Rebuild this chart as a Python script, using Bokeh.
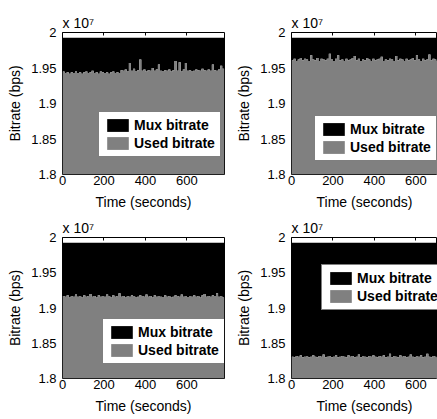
from bokeh.plotting import figure
from bokeh.layouts import column, row
from bokeh.models import (Range1d, FixedTicker, CustomJSTickFormatter, Legend,
                          LegendItem, LinearAxis)
from bokeh.embed import file_html
from bokeh.resources import INLINE

# ---------------- data (bitrates in units of 1e7 bps, axis shows "x 10^7") ---
STEP_S = 10          # sampling interval of the series, seconds
X_TICKS = [0, 200, 400, 600]
Y_TICKS = [1.8, 1.85, 1.9, 1.95, 2.0]
Y_MIN, Y_MAX = 1.8, 2.0
X_END_FULL = 781     # last second shown in the left panels
X_END_CROP = 704     # right-hand panels are cut off at the page edge

mux_a = 1.9925
used_a = [1.945, 1.943, 1.944, 1.942, 1.944, 1.943, 1.945, 1.943, 1.944, 1.942,
          1.944, 1.945, 1.943, 1.944, 1.946, 1.943, 1.944, 1.942, 1.945, 1.944,
          1.943, 1.944, 1.942, 1.944, 1.945, 1.943, 1.944, 1.943, 1.947, 1.946,
          1.948, 1.945, 1.957, 1.946, 1.949, 1.945, 1.947, 1.962, 1.946, 1.948,
          1.945, 1.947, 1.946, 1.950, 1.946, 1.948, 1.955, 1.946, 1.945, 1.947,
          1.946, 1.948, 1.945, 1.947, 1.960, 1.946, 1.958, 1.945, 1.948, 1.957,
          1.946, 1.947, 1.945, 1.946, 1.948, 1.947, 1.946, 1.949, 1.947, 1.946,
          1.948, 1.946, 1.955, 1.947, 1.946, 1.948, 1.953, 1.949, 1.950]

mux_b = 1.9925
used_b = [1.961, 1.963, 1.960, 1.962, 1.964, 1.961, 1.963, 1.962, 1.960, 1.968,
          1.962, 1.961, 1.964, 1.960, 1.963, 1.962, 1.961, 1.963, 1.970, 1.962,
          1.960, 1.963, 1.968, 1.961, 1.962, 1.960, 1.963, 1.961, 1.962, 1.964,
          1.967, 1.961, 1.963, 1.960, 1.962, 1.961, 1.964, 1.962, 1.960, 1.963,
          1.961, 1.962, 1.963, 1.966, 1.960, 1.962, 1.961, 1.963, 1.962, 1.960,
          1.967, 1.961, 1.963, 1.962, 1.960, 1.963, 1.961, 1.962, 1.964, 1.961,
          1.968, 1.962, 1.960, 1.963, 1.961, 1.962, 1.969, 1.961, 1.963, 1.962,
          1.960, 1.963, 1.961, 1.964, 1.962, 1.960, 1.963, 1.961, 1.962]

mux_c = 1.9925
used_c = [1.917, 1.916, 1.918, 1.915, 1.917, 1.916, 1.919, 1.916, 1.917, 1.915,
          1.918, 1.916, 1.917, 1.920, 1.916, 1.917, 1.915, 1.918, 1.916, 1.917,
          1.916, 1.919, 1.917, 1.915, 1.918, 1.916, 1.917, 1.921, 1.916, 1.917,
          1.915, 1.917, 1.916, 1.918, 1.917, 1.915, 1.916, 1.918, 1.917, 1.916,
          1.919, 1.916, 1.917, 1.915, 1.918, 1.916, 1.917, 1.916, 1.915, 1.918,
          1.916, 1.917, 1.915, 1.916, 1.918, 1.917, 1.916, 1.919, 1.916, 1.917,
          1.915, 1.917, 1.916, 1.918, 1.916, 1.917, 1.915, 1.918, 1.920, 1.916,
          1.917, 1.916, 1.918, 1.917, 1.921, 1.916, 1.917, 1.915, 1.918]

mux_d = 1.9925
used_d = [1.831, 1.830, 1.832, 1.831, 1.833, 1.830, 1.831, 1.832, 1.830, 1.831,
          1.833, 1.831, 1.830, 1.832, 1.831, 1.834, 1.830, 1.831, 1.832, 1.830,
          1.831, 1.833, 1.830, 1.831, 1.832, 1.831, 1.830, 1.833, 1.831, 1.832,
          1.830, 1.831, 1.834, 1.830, 1.832, 1.831, 1.830, 1.832, 1.831, 1.833,
          1.831, 1.830, 1.832, 1.831, 1.833, 1.830, 1.831, 1.835, 1.830, 1.832,
          1.831, 1.830, 1.833, 1.831, 1.832, 1.830, 1.831, 1.834, 1.831, 1.830,
          1.832, 1.831, 1.833, 1.830, 1.831, 1.835, 1.831, 1.830, 1.832, 1.831,
          1.830, 1.832, 1.831, 1.833, 1.830, 1.831, 1.832, 1.830, 1.831]

LABEL_MUX = "Mux bitrate"
LABEL_USED = "Used bitrate"
X_LABEL = "Time (seconds)"
Y_LABEL = "Bitrate (bps)"
SCALE_NOTE = "x 10\u2077"

FONT = "Liberation Sans"
GREY = "#808080"


def panel(used, mux, x_end, width, height, b_left, b_top, b_right, b_bottom,
          legend_loc):
    t = [i * STEP_S for i in range(len(used))]
    p = figure(width=width, height=height,
               x_range=Range1d(0, x_end), y_range=Range1d(Y_MIN, Y_MAX),
               output_backend="svg", toolbar_location=None,
               min_border_left=b_left, min_border_top=b_top,
               min_border_right=b_right, min_border_bottom=b_bottom,
               background_fill_color="white", border_fill_color="white",
               outline_line_color="black", outline_line_width=1)
    p.grid.visible = False

    r_mux = p.varea_step(x=t, y1=used, y2=mux, step_mode="after",
                         fill_color="black")
    r_used = p.varea_step(x=t, y1=Y_MIN, y2=used, step_mode="after",
                          fill_color=GREY)

    for ax in (p.xaxis[0], p.yaxis[0]):
        ax.axis_line_color = None
        ax.major_tick_in = 0
        ax.major_tick_out = 0
        ax.minor_tick_line_color = None
        ax.major_label_text_font = FONT
        ax.major_label_text_font_size = "13px"
        ax.major_label_text_color = "black"
        ax.axis_label_text_font = FONT
        ax.axis_label_text_font_size = "14px"
        ax.axis_label_text_font_style = "normal"
        ax.axis_label_text_color = "black"

    p.xaxis.ticker = FixedTicker(ticks=X_TICKS)
    p.xaxis.axis_label = X_LABEL
    p.xaxis.major_label_standoff = 1
    p.xaxis.axis_label_standoff = 6

    p.yaxis.ticker = FixedTicker(ticks=Y_TICKS)
    p.yaxis.formatter = CustomJSTickFormatter(
        code="return String(Math.round(tick * 100) / 100);")
    p.yaxis.axis_label = Y_LABEL
    p.yaxis.major_label_standoff = 6
    p.yaxis.axis_label_standoff = 5

    top = LinearAxis(ticker=FixedTicker(ticks=X_TICKS), axis_line_color=None,
                     major_tick_in=3, major_tick_out=0,
                     minor_tick_line_color=None,
                     major_label_text_font_size="1px",
                     major_label_text_alpha=0, major_label_standoff=0)
    p.add_layout(top, "above")

    p.title.text = SCALE_NOTE
    p.title.align = "left"
    p.title.text_font = FONT
    p.title.text_font_size = "14px"
    p.title.text_font_style = "normal"
    p.title.text_color = "black"
    p.title.standoff = 4

    legend = Legend(items=[LegendItem(label=LABEL_MUX, renderers=[r_mux]),
                           LegendItem(label=LABEL_USED, renderers=[r_used])],
                    location=legend_loc, orientation="vertical",
                    border_line_color="black", border_line_width=1,
                    background_fill_color="white", background_fill_alpha=1,
                    padding=5, spacing=2, margin=0,
                    glyph_width=27, glyph_height=16, label_height=16,
                    label_standoff=3,
                    label_text_font=FONT, label_text_font_size="14px",
                    label_text_font_style="bold", label_text_color="black")
    p.add_layout(legend)
    return p


p1 = panel(used_a, mux_a, X_END_FULL, 226, 212, 62, 30, 2, 38, (36, 17))
p2 = panel(used_b, mux_b, X_END_CROP, 211, 212, 65, 32, 0, 38, (23, 13))
p3 = panel(used_c, mux_c, X_END_FULL, 226, 207, 62, 25, 2, 38, (40, 14))
p4 = panel(used_d, mux_d, X_END_CROP, 211, 207, 65, 24, 0, 41, (30, 68))

layout = column(row(p1, p2), row(p3, p4))

with open("out.html", "w") as f:
    f.write(file_html(layout, INLINE))
